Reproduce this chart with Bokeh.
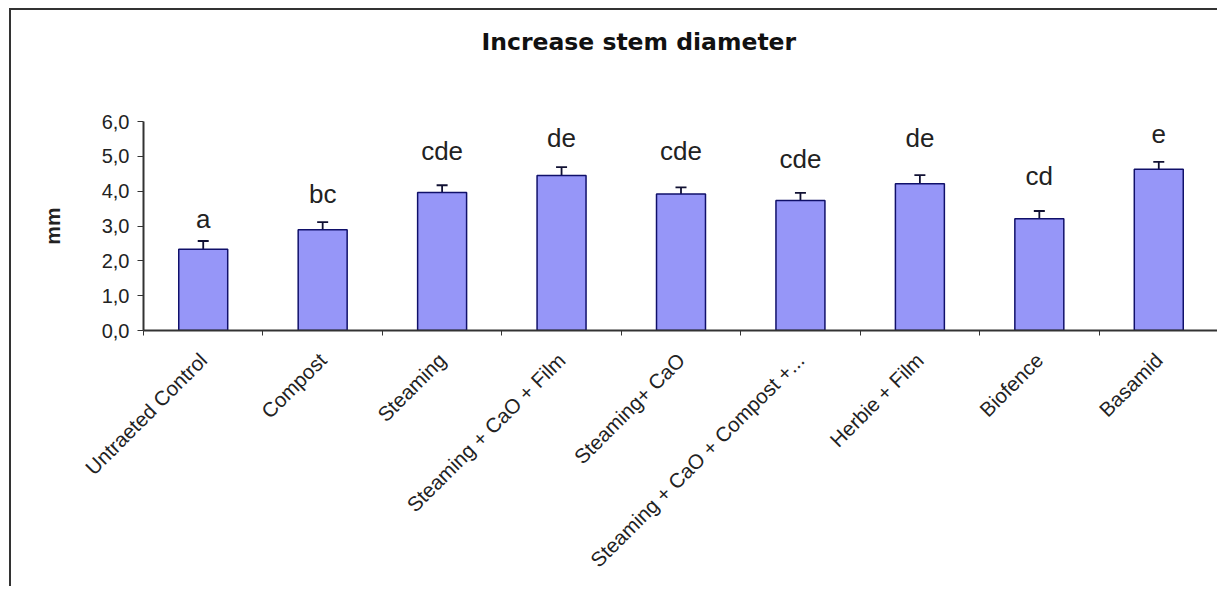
from bokeh.plotting import figure
from bokeh.models import ColumnDataSource, Range1d, FixedTicker, Whisker, TeeHead, Title
from bokeh.embed import file_html
from bokeh.resources import INLINE

# ---- data ----
categories = ["Untraeted Control", "Compost", "Steaming", "Steaming + CaO + Film",
              "Steaming+ CaO", "Steaming + CaO + Compost +...", "Herbie + Film",
              "Biofence", "Basamid"]
values = [2.33, 2.89, 3.96, 4.45, 3.92, 3.73, 4.21, 3.21, 4.63]
errors = [0.24, 0.22, 0.21, 0.24, 0.19, 0.22, 0.25, 0.22, 0.21]
letters = ["a", "bc", "cde", "de", "cde", "cde", "de", "cd", "e"]
letter_y = [2.92, 3.63, 4.87, 5.25, 4.87, 4.63, 5.25, 4.15, 5.35]
y_ticks = [0, 1, 2, 3, 4, 5, 6]
y_tick_labels = ["0,0", "1,0", "2,0", "3,0", "4,0", "5,0", "6,0"]
title_text = "Increase stem diameter"
y_label = "mm"

n = len(categories)
centers = [i + 0.5 for i in range(n)]
bounds = list(range(n + 1))

src = ColumnDataSource(dict(
    x=centers, top=values,
    upper=[v + e for v, e in zip(values, errors)],
    lower=[v - e for v, e in zip(values, errors)],
    letter=letters, ly=letter_y,
))

p = figure(width=1208, height=578, output_backend="svg", toolbar_location=None,
           x_range=Range1d(0, n), y_range=Range1d(0, 6),
           min_border_left=132, min_border_right=1, min_border_top=111,
           min_border_bottom=258)
p.styles = {"margin-left": "9px", "margin-top": "8px",
            "border-left": "2px solid #333333", "border-top": "2px solid #333333"}
p.outline_line_color = None
p.xgrid.grid_line_color = None
p.ygrid.grid_line_color = None
p.background_fill_color = "white"
p.border_fill_color = "white"

p.title.text = title_text
p.title.align = "left"
p.title.offset = 338
p.title.standoff = 10
p.title.text_font = "DejaVu Sans"
p.title.text_font_style = "bold"
p.title.text_font_size = "23.5px"
p.title.text_color = "#111111"
# empty spacer between title and plot area
p.add_layout(Title(text=" ", text_font_size="1px", standoff=58), "above")

p.vbar(x="x", top="top", width=0.41, bottom=0, source=src,
       fill_color="#9696F8", line_color="#10106a", line_width=1.5)

wh = Whisker(base="x", upper="upper", lower="lower", source=src,
             line_color="#111133", line_width=1.8,
             upper_head=TeeHead(size=11, line_color="#111133", line_width=1.8),
             lower_head=TeeHead(size=11, line_color="#111133", line_width=1.8))
p.add_layout(wh)

p.text(x="x", y="ly", text="letter", source=src, text_align="center",
       text_baseline="alphabetic", y_offset=-10, text_font_size="26px",
       text_font={"value": "Liberation Sans"}, text_color="#222222")

# x axis
xa = p.xaxis[0]
xa.ticker = FixedTicker(ticks=centers, minor_ticks=bounds)
xa.major_label_overrides = {c: lab for c, lab in zip(centers, categories)}
xa.major_label_orientation = 0.785398
xa.major_tick_line_color = None
xa.minor_tick_line_color = "#333333"
xa.minor_tick_in = 0
xa.minor_tick_out = 5
xa.axis_line_color = "#333333"
xa.axis_line_width = 2
xa.major_label_text_font = "Liberation Sans"
xa.major_label_text_font_size = "20.5px"
xa.major_label_text_color = "#222222"
xa.major_label_standoff = 20

# y axis
ya = p.yaxis[0]
ya.ticker = FixedTicker(ticks=y_ticks, minor_ticks=[])
ya.major_label_overrides = {t: lab for t, lab in zip(y_ticks, y_tick_labels)}
ya.major_tick_in = 0
ya.major_tick_out = 6
ya.major_tick_line_color = "#333333"
ya.axis_line_color = "#333333"
ya.axis_line_width = 2
ya.major_label_text_font = "Liberation Sans"
ya.major_label_text_font_size = "20px"
ya.major_label_text_color = "#222222"
ya.major_label_standoff = 8
ya.axis_label = y_label
ya.axis_label_text_font = "Liberation Sans"
ya.axis_label_text_font_style = "bold"
ya.axis_label_text_font_size = "21px"
ya.axis_label_text_color = "#222222"
ya.axis_label_standoff = 35

open("out.html", "w").write(file_html(p, INLINE))
